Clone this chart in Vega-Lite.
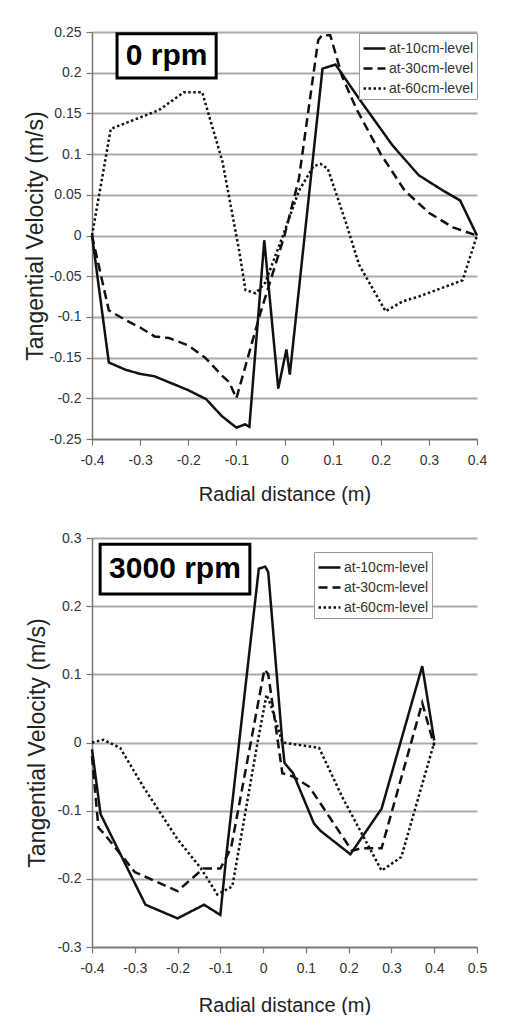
{
  "$schema": "https://vega.github.io/schema/vega-lite/v6.json",
  "padding": {"left": 24, "top": 25, "right": 0, "bottom": 0},
  "background": "white",
  "spacing": 27,
  "config": {
    "font": "Liberation Sans",
    "view": {"stroke": null},
    "axis": {
      "labelColor": "#333", "labelFontSize": 14, "titleColor": "#222", "titleFontWeight": "normal",
      "domainColor": "#777", "domainWidth": 1.5, "tickColor": "#777", "tickWidth": 1.2,
      "gridColor": "#ababab", "gridWidth": 2, "labelOverlap": false, "labelFlush": false
    }
  },
  "resolve": {"legend": {"strokeDash": "independent"}, "scale": {"x": "independent", "y": "independent", "strokeDash": "independent"}},
  "datasets": {
    "curves": [
      {"panel": "0 rpm", "level": "at-10cm-level", "x": -0.4, "y": 0},
      {"panel": "0 rpm", "level": "at-10cm-level", "x": -0.365, "y": -0.156},
      {"panel": "0 rpm", "level": "at-10cm-level", "x": -0.33, "y": -0.165},
      {"panel": "0 rpm", "level": "at-10cm-level", "x": -0.3, "y": -0.17},
      {"panel": "0 rpm", "level": "at-10cm-level", "x": -0.27, "y": -0.173},
      {"panel": "0 rpm", "level": "at-10cm-level", "x": -0.2, "y": -0.19},
      {"panel": "0 rpm", "level": "at-10cm-level", "x": -0.163, "y": -0.201},
      {"panel": "0 rpm", "level": "at-10cm-level", "x": -0.13, "y": -0.222},
      {"panel": "0 rpm", "level": "at-10cm-level", "x": -0.1, "y": -0.236},
      {"panel": "0 rpm", "level": "at-10cm-level", "x": -0.082, "y": -0.232},
      {"panel": "0 rpm", "level": "at-10cm-level", "x": -0.073, "y": -0.235},
      {"panel": "0 rpm", "level": "at-10cm-level", "x": -0.042, "y": -0.006},
      {"panel": "0 rpm", "level": "at-10cm-level", "x": -0.013, "y": -0.188},
      {"panel": "0 rpm", "level": "at-10cm-level", "x": 0.004, "y": -0.14},
      {"panel": "0 rpm", "level": "at-10cm-level", "x": 0.011, "y": -0.171},
      {"panel": "0 rpm", "level": "at-10cm-level", "x": 0.079, "y": 0.205},
      {"panel": "0 rpm", "level": "at-10cm-level", "x": 0.106, "y": 0.21},
      {"panel": "0 rpm", "level": "at-10cm-level", "x": 0.155, "y": 0.168},
      {"panel": "0 rpm", "level": "at-10cm-level", "x": 0.224, "y": 0.111},
      {"panel": "0 rpm", "level": "at-10cm-level", "x": 0.279, "y": 0.074},
      {"panel": "0 rpm", "level": "at-10cm-level", "x": 0.33, "y": 0.055},
      {"panel": "0 rpm", "level": "at-10cm-level", "x": 0.365, "y": 0.043},
      {"panel": "0 rpm", "level": "at-10cm-level", "x": 0.4, "y": 0},

      {"panel": "0 rpm", "level": "at-30cm-level", "x": -0.4, "y": 0},
      {"panel": "0 rpm", "level": "at-30cm-level", "x": -0.365, "y": -0.092},
      {"panel": "0 rpm", "level": "at-30cm-level", "x": -0.33, "y": -0.104},
      {"panel": "0 rpm", "level": "at-30cm-level", "x": -0.3, "y": -0.113},
      {"panel": "0 rpm", "level": "at-30cm-level", "x": -0.27, "y": -0.124},
      {"panel": "0 rpm", "level": "at-30cm-level", "x": -0.24, "y": -0.126},
      {"panel": "0 rpm", "level": "at-30cm-level", "x": -0.2, "y": -0.135},
      {"panel": "0 rpm", "level": "at-30cm-level", "x": -0.165, "y": -0.15},
      {"panel": "0 rpm", "level": "at-30cm-level", "x": -0.13, "y": -0.172},
      {"panel": "0 rpm", "level": "at-30cm-level", "x": -0.115, "y": -0.18},
      {"panel": "0 rpm", "level": "at-30cm-level", "x": -0.1, "y": -0.2},
      {"panel": "0 rpm", "level": "at-30cm-level", "x": -0.05, "y": -0.095},
      {"panel": "0 rpm", "level": "at-30cm-level", "x": 0, "y": 0},
      {"panel": "0 rpm", "level": "at-30cm-level", "x": 0.03, "y": 0.07},
      {"panel": "0 rpm", "level": "at-30cm-level", "x": 0.07, "y": 0.24},
      {"panel": "0 rpm", "level": "at-30cm-level", "x": 0.078, "y": 0.246},
      {"panel": "0 rpm", "level": "at-30cm-level", "x": 0.095, "y": 0.246},
      {"panel": "0 rpm", "level": "at-30cm-level", "x": 0.12, "y": 0.195},
      {"panel": "0 rpm", "level": "at-30cm-level", "x": 0.15, "y": 0.155},
      {"panel": "0 rpm", "level": "at-30cm-level", "x": 0.2, "y": 0.1},
      {"panel": "0 rpm", "level": "at-30cm-level", "x": 0.25, "y": 0.055},
      {"panel": "0 rpm", "level": "at-30cm-level", "x": 0.3, "y": 0.028},
      {"panel": "0 rpm", "level": "at-30cm-level", "x": 0.35, "y": 0.01},
      {"panel": "0 rpm", "level": "at-30cm-level", "x": 0.4, "y": 0},

      {"panel": "0 rpm", "level": "at-60cm-level", "x": -0.4, "y": 0},
      {"panel": "0 rpm", "level": "at-60cm-level", "x": -0.361, "y": 0.131},
      {"panel": "0 rpm", "level": "at-60cm-level", "x": -0.3, "y": 0.145},
      {"panel": "0 rpm", "level": "at-60cm-level", "x": -0.261, "y": 0.154},
      {"panel": "0 rpm", "level": "at-60cm-level", "x": -0.209, "y": 0.176},
      {"panel": "0 rpm", "level": "at-60cm-level", "x": -0.171, "y": 0.176},
      {"panel": "0 rpm", "level": "at-60cm-level", "x": -0.129, "y": 0.091},
      {"panel": "0 rpm", "level": "at-60cm-level", "x": -0.095, "y": -0.016},
      {"panel": "0 rpm", "level": "at-60cm-level", "x": -0.081, "y": -0.067},
      {"panel": "0 rpm", "level": "at-60cm-level", "x": -0.06, "y": -0.071},
      {"panel": "0 rpm", "level": "at-60cm-level", "x": -0.04, "y": -0.058},
      {"panel": "0 rpm", "level": "at-60cm-level", "x": 0, "y": 0.005},
      {"panel": "0 rpm", "level": "at-60cm-level", "x": 0.03, "y": 0.055},
      {"panel": "0 rpm", "level": "at-60cm-level", "x": 0.06, "y": 0.085},
      {"panel": "0 rpm", "level": "at-60cm-level", "x": 0.075, "y": 0.088},
      {"panel": "0 rpm", "level": "at-60cm-level", "x": 0.09, "y": 0.082},
      {"panel": "0 rpm", "level": "at-60cm-level", "x": 0.127, "y": 0.017},
      {"panel": "0 rpm", "level": "at-60cm-level", "x": 0.155, "y": -0.036},
      {"panel": "0 rpm", "level": "at-60cm-level", "x": 0.21, "y": -0.093},
      {"panel": "0 rpm", "level": "at-60cm-level", "x": 0.245, "y": -0.081},
      {"panel": "0 rpm", "level": "at-60cm-level", "x": 0.279, "y": -0.075},
      {"panel": "0 rpm", "level": "at-60cm-level", "x": 0.37, "y": -0.055},
      {"panel": "0 rpm", "level": "at-60cm-level", "x": 0.4, "y": 0},

      {"panel": "3000 rpm", "level": "at-10cm-level", "x": -0.4, "y": -0.01},
      {"panel": "3000 rpm", "level": "at-10cm-level", "x": -0.38, "y": -0.105},
      {"panel": "3000 rpm", "level": "at-10cm-level", "x": -0.275, "y": -0.238},
      {"panel": "3000 rpm", "level": "at-10cm-level", "x": -0.2, "y": -0.258},
      {"panel": "3000 rpm", "level": "at-10cm-level", "x": -0.138, "y": -0.238},
      {"panel": "3000 rpm", "level": "at-10cm-level", "x": -0.1, "y": -0.253},
      {"panel": "3000 rpm", "level": "at-10cm-level", "x": -0.085, "y": -0.16},
      {"panel": "3000 rpm", "level": "at-10cm-level", "x": -0.01, "y": 0.255},
      {"panel": "3000 rpm", "level": "at-10cm-level", "x": 0.005, "y": 0.258},
      {"panel": "3000 rpm", "level": "at-10cm-level", "x": 0.012, "y": 0.25},
      {"panel": "3000 rpm", "level": "at-10cm-level", "x": 0.045, "y": 0},
      {"panel": "3000 rpm", "level": "at-10cm-level", "x": 0.05, "y": -0.03},
      {"panel": "3000 rpm", "level": "at-10cm-level", "x": 0.07, "y": -0.045},
      {"panel": "3000 rpm", "level": "at-10cm-level", "x": 0.119, "y": -0.119},
      {"panel": "3000 rpm", "level": "at-10cm-level", "x": 0.135, "y": -0.13},
      {"panel": "3000 rpm", "level": "at-10cm-level", "x": 0.204, "y": -0.164},
      {"panel": "3000 rpm", "level": "at-10cm-level", "x": 0.277, "y": -0.097},
      {"panel": "3000 rpm", "level": "at-10cm-level", "x": 0.372, "y": 0.112},
      {"panel": "3000 rpm", "level": "at-10cm-level", "x": 0.4, "y": 0.003},

      {"panel": "3000 rpm", "level": "at-30cm-level", "x": -0.4, "y": -0.02},
      {"panel": "3000 rpm", "level": "at-30cm-level", "x": -0.385, "y": -0.125},
      {"panel": "3000 rpm", "level": "at-30cm-level", "x": -0.37, "y": -0.135},
      {"panel": "3000 rpm", "level": "at-30cm-level", "x": -0.3, "y": -0.19},
      {"panel": "3000 rpm", "level": "at-30cm-level", "x": -0.2, "y": -0.218},
      {"panel": "3000 rpm", "level": "at-30cm-level", "x": -0.14, "y": -0.185},
      {"panel": "3000 rpm", "level": "at-30cm-level", "x": -0.1, "y": -0.185},
      {"panel": "3000 rpm", "level": "at-30cm-level", "x": -0.075, "y": -0.155},
      {"panel": "3000 rpm", "level": "at-30cm-level", "x": 0.003, "y": 0.107},
      {"panel": "3000 rpm", "level": "at-30cm-level", "x": 0.012, "y": 0.1},
      {"panel": "3000 rpm", "level": "at-30cm-level", "x": 0.045, "y": -0.045},
      {"panel": "3000 rpm", "level": "at-30cm-level", "x": 0.07, "y": -0.05},
      {"panel": "3000 rpm", "level": "at-30cm-level", "x": 0.108, "y": -0.065},
      {"panel": "3000 rpm", "level": "at-30cm-level", "x": 0.208, "y": -0.159},
      {"panel": "3000 rpm", "level": "at-30cm-level", "x": 0.23, "y": -0.155},
      {"panel": "3000 rpm", "level": "at-30cm-level", "x": 0.277, "y": -0.155},
      {"panel": "3000 rpm", "level": "at-30cm-level", "x": 0.372, "y": 0.058},
      {"panel": "3000 rpm", "level": "at-30cm-level", "x": 0.4, "y": -0.005},

      {"panel": "3000 rpm", "level": "at-60cm-level", "x": -0.4, "y": 0},
      {"panel": "3000 rpm", "level": "at-60cm-level", "x": -0.373, "y": 0.004},
      {"panel": "3000 rpm", "level": "at-60cm-level", "x": -0.334, "y": -0.008},
      {"panel": "3000 rpm", "level": "at-60cm-level", "x": -0.28, "y": -0.065},
      {"panel": "3000 rpm", "level": "at-60cm-level", "x": -0.2, "y": -0.142},
      {"panel": "3000 rpm", "level": "at-60cm-level", "x": -0.146, "y": -0.184},
      {"panel": "3000 rpm", "level": "at-60cm-level", "x": -0.107, "y": -0.223},
      {"panel": "3000 rpm", "level": "at-60cm-level", "x": -0.072, "y": -0.211},
      {"panel": "3000 rpm", "level": "at-60cm-level", "x": -0.045, "y": -0.115},
      {"panel": "3000 rpm", "level": "at-60cm-level", "x": -0.013, "y": 0},
      {"panel": "3000 rpm", "level": "at-60cm-level", "x": 0.008, "y": 0.07},
      {"panel": "3000 rpm", "level": "at-60cm-level", "x": 0.018, "y": 0.055},
      {"panel": "3000 rpm", "level": "at-60cm-level", "x": 0.045, "y": 0},
      {"panel": "3000 rpm", "level": "at-60cm-level", "x": 0.1, "y": -0.005},
      {"panel": "3000 rpm", "level": "at-60cm-level", "x": 0.131, "y": -0.008},
      {"panel": "3000 rpm", "level": "at-60cm-level", "x": 0.185, "y": -0.08},
      {"panel": "3000 rpm", "level": "at-60cm-level", "x": 0.277, "y": -0.188},
      {"panel": "3000 rpm", "level": "at-60cm-level", "x": 0.323, "y": -0.168},
      {"panel": "3000 rpm", "level": "at-60cm-level", "x": 0.4, "y": 0}
    ]
  },
  "vconcat": [
    {
      "width": 385,
      "height": 407,
      "layer": [
        {
          "data": {"values": [{}]},
          "mark": {"type": "rect", "fill": "white", "stroke": "black", "strokeWidth": 3},
          "encoding": {
            "x": {"datum": -0.348, "type": "quantitative"},
            "x2": {"datum": -0.142},
            "y": {"datum": 0.248, "type": "quantitative"},
            "y2": {"datum": 0.1935}
          }
        },
        {
          "data": {"values": [{}]},
          "mark": {"type": "text", "text": "0 rpm", "fontSize": 30, "fontWeight": "bold", "font": "Liberation Sans", "color": "black", "baseline": "middle", "align": "center"},
          "encoding": {
            "x": {"datum": -0.245, "type": "quantitative"},
            "y": {"datum": 0.221, "type": "quantitative"}
          }
        },
        {
          "data": {"name": "curves"},
          "transform": [{"filter": "datum.panel === '0 rpm'"}],
          "mark": {"type": "line", "color": "#111", "strokeWidth": 2.5},
          "encoding": {
            "x": {
              "field": "x", "type": "quantitative",
              "scale": {"domain": [-0.4, 0.4], "nice": false, "zero": false},
              "axis": {
                "title": "Radial distance (m)", "titleFontSize": 20, "titlePadding": 17,
                "values": [-0.4,-0.375,-0.35,-0.325,-0.3,-0.275,-0.25,-0.225,-0.2,-0.175,-0.15,-0.125,-0.1,-0.075,-0.05,-0.025,0,0.025,0.05,0.075,0.1,0.125,0.15,0.175,0.2,0.225,0.25,0.275,0.3,0.325,0.35,0.375,0.4],
                "labelExpr": "abs(datum.value*10 - round(datum.value*10)) < 0.001 ? toString(datum.value) : ''",
                "tickSize": {"condition": {"test": "abs(datum.value*10 - round(datum.value*10)) < 0.001", "value": 6}, "value": 4},
                "labelPadding": 8,
                "labelOverlap": false,
                "labelSeparation": -40,
                "labelBound": false,
                "grid": false
              }
            },
            "y": {
              "field": "y", "type": "quantitative",
              "scale": {"domain": [-0.25, 0.25], "nice": false, "zero": false},
              "axis": {
                "title": "Tangential Velocity (m/s)", "titleFontSize": 23, "titlePadding": 2,
                "values": [-0.25,-0.225,-0.2,-0.175,-0.15,-0.125,-0.1,-0.075,-0.05,-0.025,0,0.025,0.05,0.075,0.1,0.125,0.15,0.175,0.2,0.225,0.25],
                "labelExpr": "abs(datum.value*20 - round(datum.value*20)) < 0.001 ? toString(datum.value) : ''",
                "tickSize": {"condition": {"test": "abs(datum.value*20 - round(datum.value*20)) < 0.001", "value": 6}, "value": 3},
                "labelPadding": 5,
                "labelOverlap": false,
                "grid": true,
                "gridOpacity": {"condition": {"test": "abs(datum.value*20 - round(datum.value*20)) < 0.001", "value": 1}, "value": 0}
              }
            },
            "strokeDash": {
              "field": "level", "type": "nominal",
              "scale": {"domain": ["at-10cm-level", "at-30cm-level", "at-60cm-level"], "range": [[1, 0], [9, 5], [2.5, 2.5]]},
              "legend": {
                "orient": "none", "legendX": 267, "legendY": 1, "title": null,
                "symbolType": "stroke", "symbolSize": 484, "symbolStrokeWidth": 2.5, "symbolStrokeColor": "#111",
                "labelFontSize": 14, "labelColor": "#333", "strokeColor": "#999", "fillColor": "white",
                "padding": 3, "rowPadding": 0, "labelOffset": 2
              }
            }
          }
        }
      ]
    },
    {
      "width": 385,
      "height": 409,
      "layer": [
        {
          "data": {"values": [{}]},
          "mark": {"type": "rect", "fill": "white", "stroke": "black", "strokeWidth": 3},
          "encoding": {
            "x": {"datum": -0.381, "type": "quantitative"},
            "x2": {"datum": -0.031},
            "y": {"datum": 0.291, "type": "quantitative"},
            "y2": {"datum": 0.218}
          }
        },
        {
          "data": {"values": [{}]},
          "mark": {"type": "text", "text": "3000 rpm", "fontSize": 30, "fontWeight": "bold", "font": "Liberation Sans", "color": "black", "baseline": "middle", "align": "center"},
          "encoding": {
            "x": {"datum": -0.206, "type": "quantitative"},
            "y": {"datum": 0.2545, "type": "quantitative"}
          }
        },
        {
          "data": {"name": "curves"},
          "transform": [{"filter": "datum.panel === '3000 rpm'"}],
          "mark": {"type": "line", "color": "#111", "strokeWidth": 2.5},
          "encoding": {
            "x": {
              "field": "x", "type": "quantitative",
              "scale": {"domain": [-0.4, 0.5], "nice": false, "zero": false},
              "axis": {
                "title": "Radial distance (m)", "titleFontSize": 20, "titlePadding": 20,
                "values": [-0.4,-0.375,-0.35,-0.325,-0.3,-0.275,-0.25,-0.225,-0.2,-0.175,-0.15,-0.125,-0.1,-0.075,-0.05,-0.025,0,0.025,0.05,0.075,0.1,0.125,0.15,0.175,0.2,0.225,0.25,0.275,0.3,0.325,0.35,0.375,0.4,0.425,0.45,0.475,0.5],
                "labelExpr": "abs(datum.value*10 - round(datum.value*10)) < 0.001 ? toString(datum.value) : ''",
                "tickSize": {"condition": {"test": "abs(datum.value*10 - round(datum.value*10)) < 0.001", "value": 6}, "value": 4},
                "labelPadding": 8,
                "labelOverlap": false,
                "labelSeparation": -40,
                "labelBound": false,
                "grid": false
              }
            },
            "y": {
              "field": "y", "type": "quantitative",
              "scale": {"domain": [-0.3, 0.3], "nice": false, "zero": false},
              "axis": {
                "title": "Tangential Velocity (m/s)", "titleFontSize": 23, "titlePadding": 7,
                "values": [-0.3,-0.275,-0.25,-0.225,-0.2,-0.175,-0.15,-0.125,-0.1,-0.075,-0.05,-0.025,0,0.025,0.05,0.075,0.1,0.125,0.15,0.175,0.2,0.225,0.25,0.275,0.3],
                "labelExpr": "abs(datum.value*10 - round(datum.value*10)) < 0.001 ? toString(datum.value) : ''",
                "tickSize": {"condition": {"test": "abs(datum.value*10 - round(datum.value*10)) < 0.001", "value": 6}, "value": 3},
                "labelPadding": 5,
                "labelOverlap": false,
                "grid": true,
                "gridOpacity": {"condition": {"test": "abs(datum.value*10 - round(datum.value*10)) < 0.001", "value": 1}, "value": 0}
              }
            },
            "strokeDash": {
              "field": "level", "type": "nominal",
              "scale": {"domain": ["at-10cm-level", "at-30cm-level", "at-60cm-level"], "range": [[1, 0], [9, 5], [2.5, 2.5]]},
              "legend": {
                "orient": "none", "legendX": 222, "legendY": 14, "title": null,
                "symbolType": "stroke", "symbolSize": 484, "symbolStrokeWidth": 2.5, "symbolStrokeColor": "#111",
                "labelFontSize": 14, "labelColor": "#333", "strokeColor": "#999", "fillColor": "white",
                "padding": 3, "rowPadding": 0, "labelOffset": 2
              }
            }
          }
        }
      ]
    }
  ]
}
